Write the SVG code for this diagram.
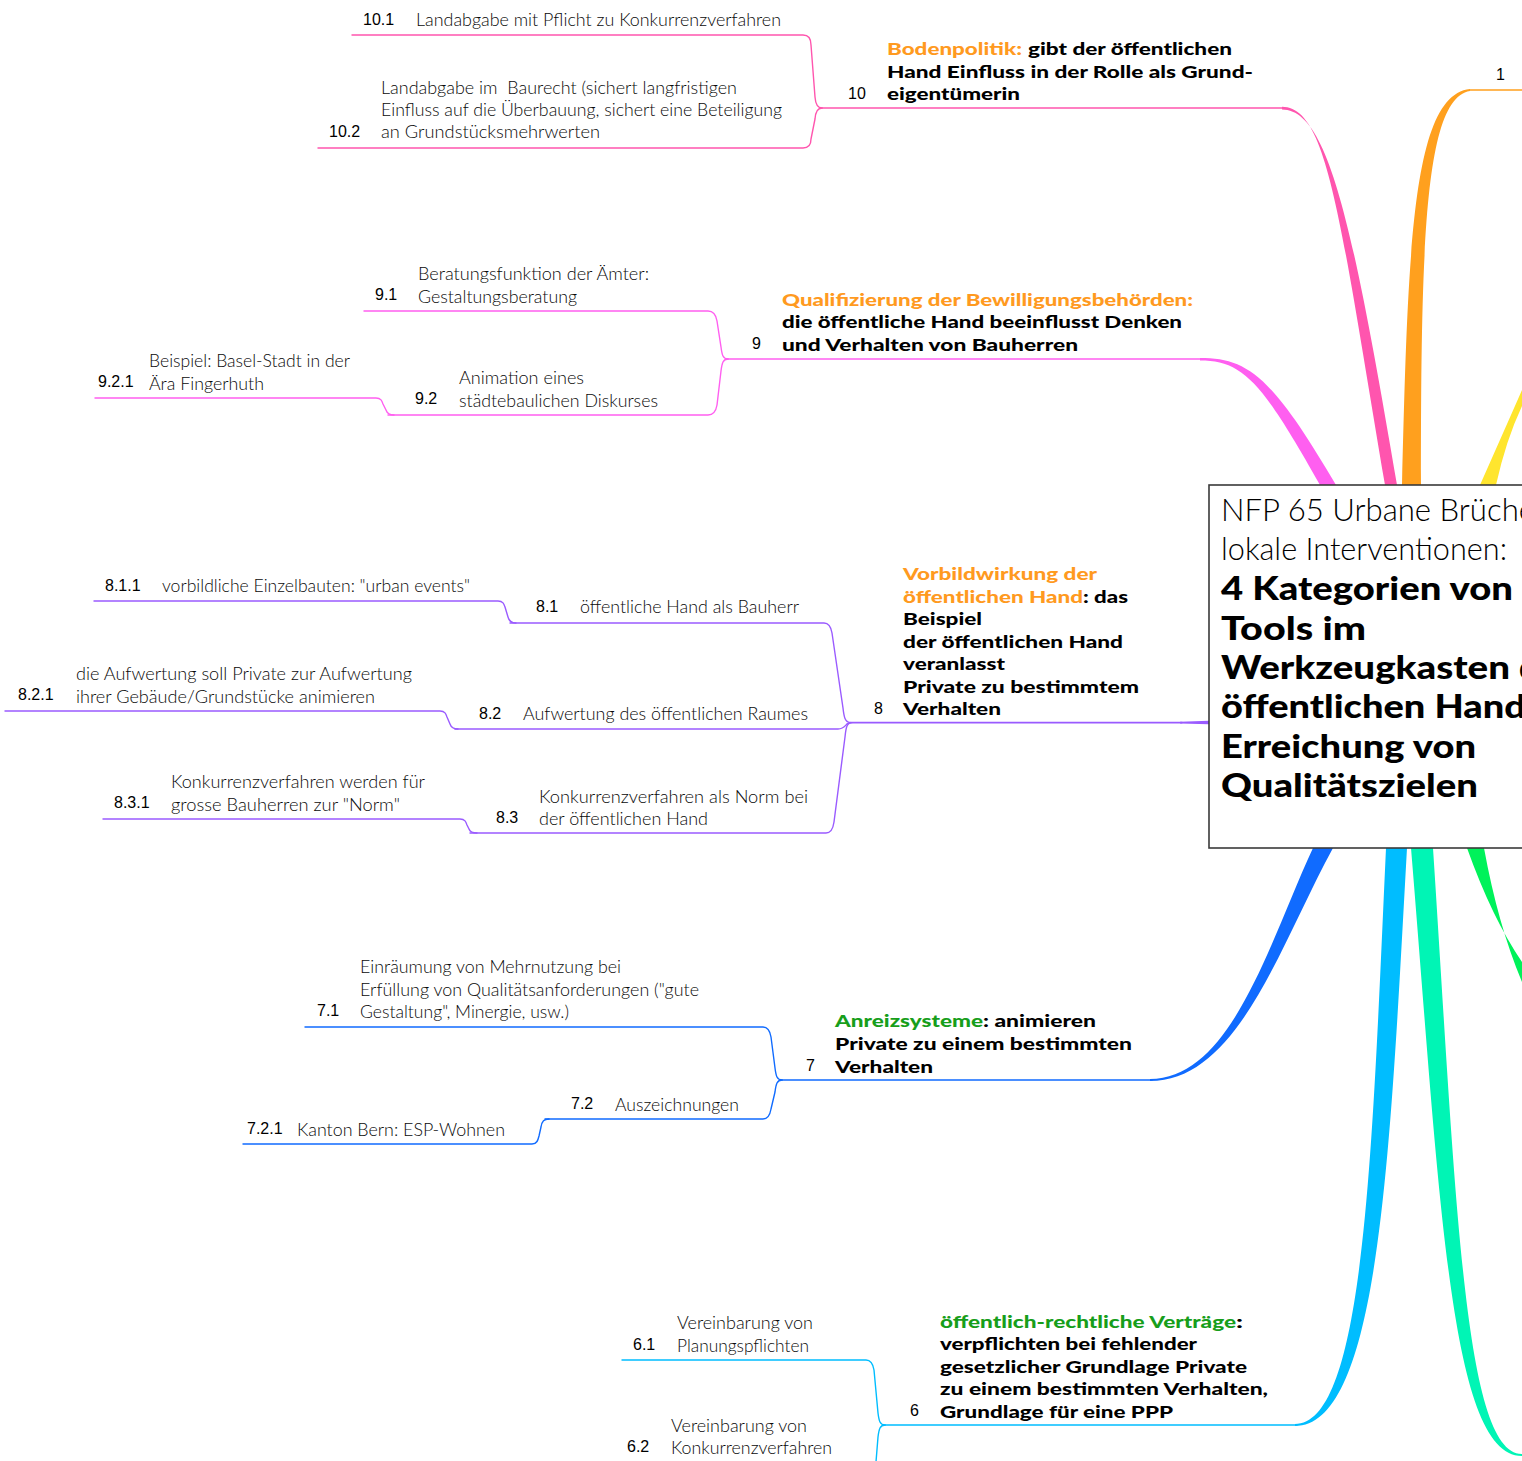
<svg xmlns="http://www.w3.org/2000/svg" width="1522" height="1461" viewBox="0 0 1522 1461">
<style>
.lt{font-family:Lato,"Open Sans",sans-serif;font-weight:300;font-size:18px;fill:#0a0a0a}
.bd{font-family:Lato,"Open Sans",sans-serif;font-weight:900;font-size:17px;fill:#000}
.nm{font-family:"Liberation Sans",Arial,sans-serif;font-size:16px;fill:#000}
.or{fill:#FF9A1F}
.gr{fill:#179E1B}
.cl{font-family:Lato,"Open Sans",sans-serif;font-weight:300;font-size:31px;fill:#000}
.cb{font-family:Lato,"Open Sans",sans-serif;font-weight:900;font-size:33px;fill:#000}
.c{fill:none;stroke-width:1.4;stroke-linecap:round;stroke-linejoin:round}
.p10{stroke:#FF55AE}.p9{stroke:#FF5FF0}.p8{stroke:#9A5BFF}.p7{stroke:#106BFF}.p6{stroke:#00BDFF}
</style>
<rect width="1522" height="1461" fill="#fff"/>
<g id="connectors">
  <path d="M1282,106.8 C1328,106.8 1340,220 1385,485 L1397,485 C1352,220 1328,109.4 1282,109.4 Z" fill="#FF55AE"/>
  <path d="M1200,358 C1248,358 1272,376 1336,485 L1320,485 C1262,382 1243,360.6 1200,360.6 Z" fill="#FF5FF0"/>
  <path d="M1402,485 C1408,250 1412,95 1470,89 L1470,91 C1424,98 1421,250 1421,485 Z" fill="#FFA01E"/>
  <path d="M1480,485 Q1500,440 1522,390 L1522,406 Q1506,440 1496,485 Z" fill="#FFE52E"/>
  <path d="M1313,848 C1270,940 1232,1079 1150,1079 L1150,1081 C1238,1081 1280,945 1333,848 Z" fill="#106BFF"/>
  <path d="M1386,848 C1372,1150 1365,1424 1295,1424 L1295,1426 C1380,1426 1390,1150 1407,848 Z" fill="#00BDFF"/>
  <path d="M1411,848 C1440,1200 1450,1456 1522,1456 L1522,1454 C1464,1454 1456,1200 1433,848 Z" fill="#00F5B5"/>
  <path d="M1467,848 Q1492,918 1522,962 L1522,982 Q1498,925 1484,848 Z" fill="#00F25A"/>
  <path d="M1180,721.8 L1209,720.8 L1209,724.2 L1180,723.4 Z" fill="#9A5BFF"/>
  <path class="c p10" d="M822,108 H1284"/>
  <path class="c p9" d="M728,359 H1202"/>
  <path class="c p8" d="M850,722.6 H1182" style="stroke-width:1.6"/>
  <path class="c p7" d="M782,1080 H1152"/>
  <path class="c p6" d="M885,1425 H1297"/>
  <path d="M1470,90 H1522" class="c" style="stroke:#FFA01E"/>
  <path class="c p10" d="M352,35 H803 C809,35 811,39 811,45 L815,97 C815.5,104 817,108 822,108"/>
  <path class="c p10" d="M318,148 H803 C809,148 811,144 811,139 L815,119 C815.5,112 817,108 822,108"/>
  <path class="c p9" d="M364,311 H708 C714,311 716,315 717,321 L721,347 C722,355 723,359 728,359"/>
  <path class="c p9" d="M388,415 H708 C714,415 716,411 717,405 L721,371 C722,363 723,359 728,359"/>
  <path class="c p9" d="M95,398 H376 C381,398 382,401 383,404 L386,410 C387,413 389,415 394,415"/>
  <path class="c p8" d="M94,601 H498 C503,601 504,604 505,607 L508,617 C509,621 511,623 516,623"/>
  <path class="c p8" d="M510,623 H824 C829,623 831,627 832,633 L843,708 C844,717 845,722 850,722.6"/>
  <path class="c p8" d="M5,711 H440 C445,711 446,714 447,717 L450,724 C451,727 453,729 458,729"/>
  <path class="c p8" d="M455,729 H838 C843,729 845,726 847,724 L850,722.6"/>
  <path class="c p8" d="M103,819 H460 C465,819 466,822 467,825 L469,829 C470,832 472,833 477,833"/>
  <path class="c p8" d="M470,833 H826 C831,833 833,829 834,822 L845,737 C846,727 847,722.6 852,722.6"/>
  <path class="c p7" d="M305,1027 H763 C768,1027 770,1031 771,1037 L775,1068 C776,1076 777,1080 782,1080"/>
  <path class="c p7" d="M545,1119 H763 C768,1119 770,1115 771,1109 L775,1092 C776,1084 777,1080 782,1080"/>
  <path class="c p7" d="M243,1144 H532 C537,1144 538,1140 539,1136 L541,1127 C542,1121 544,1119 549,1119"/>
  <path class="c p6" d="M622,1360 H866 C871,1360 873,1364 874,1370 L878,1413 C879,1421 880,1425 885,1425"/>
  <path class="c p6" d="M885,1425 C880,1425 879,1429 878,1437 L876,1462"/>
</g>
<g id="central">
  <rect x="1209" y="485" width="340" height="363" fill="#fff" stroke="#3a3a3a" stroke-width="1.6"/>
  <text class="cl" x="1221" y="521" textLength="314" lengthAdjust="spacingAndGlyphs">NFP 65 Urbane Brüche</text>
  <text class="cl" x="1221" y="560" textLength="286" lengthAdjust="spacingAndGlyphs">lokale Interventionen:</text>
  <text class="cb" x="1221" y="600" textLength="292" lengthAdjust="spacingAndGlyphs">4 Kategorien von</text>
  <text class="cb" x="1221" y="640" textLength="145" lengthAdjust="spacingAndGlyphs">Tools im</text>
  <text class="cb" x="1221" y="679" textLength="289" lengthAdjust="spacingAndGlyphs">Werkzeugkasten</text>
  <text class="cb" x="1519" y="679">der</text>
  <text class="cb" x="1221" y="718" textLength="305" lengthAdjust="spacingAndGlyphs">öffentlichen Hand</text>
  <text class="cb" x="1221" y="758" textLength="255" lengthAdjust="spacingAndGlyphs">Erreichung von</text>
  <text class="cb" x="1221" y="797" textLength="257" lengthAdjust="spacingAndGlyphs">Qualitätszielen</text>
</g>
<g id="n1"><text class="nm" x="1496" y="80">1</text></g>
<g id="n10">
  <text class="nm" x="848" y="99">10</text>
  <text class="bd or" x="887" y="55" textLength="135" lengthAdjust="spacingAndGlyphs">Bodenpolitik:</text>
  <text class="bd" x="1028" y="55" textLength="204" lengthAdjust="spacingAndGlyphs">gibt der öffentlichen</text>
  <text class="bd" x="887" y="78" textLength="366" lengthAdjust="spacingAndGlyphs">Hand Einfluss in der Rolle als Grund-</text>
  <text class="bd" x="887" y="100" textLength="133" lengthAdjust="spacingAndGlyphs">eigentümerin</text>
</g>
<g id="n10-1">
  <text class="nm" x="363" y="25">10.1</text>
  <text class="lt" x="416" y="26" textLength="365" lengthAdjust="spacingAndGlyphs">Landabgabe mit Pflicht zu Konkurrenzverfahren</text>
</g>
<g id="n10-2">
  <text class="nm" x="329" y="137">10.2</text>
  <text class="lt" x="381" y="94" textLength="356" lengthAdjust="spacingAndGlyphs" xml:space="preserve">Landabgabe im  Baurecht (sichert langfristigen</text>
  <text class="lt" x="381" y="116" textLength="401" lengthAdjust="spacingAndGlyphs">Einfluss auf die Überbauung, sichert eine Beteiligung</text>
  <text class="lt" x="381" y="138" textLength="219" lengthAdjust="spacingAndGlyphs">an Grundstücksmehrwerten</text>
</g>
<g id="n9">
  <text class="nm" x="752" y="349">9</text>
  <text class="bd or" x="782" y="306" textLength="411" lengthAdjust="spacingAndGlyphs">Qualifizierung der Bewilligungsbehörden:</text>
  <text class="bd" x="782" y="328" textLength="400" lengthAdjust="spacingAndGlyphs">die öffentliche Hand beeinflusst Denken</text>
  <text class="bd" x="782" y="351" textLength="296" lengthAdjust="spacingAndGlyphs">und Verhalten von Bauherren</text>
</g>
<g id="n9-1">
  <text class="nm" x="375" y="300">9.1</text>
  <text class="lt" x="418" y="280" textLength="231" lengthAdjust="spacingAndGlyphs">Beratungsfunktion der Ämter:</text>
  <text class="lt" x="418" y="303" textLength="159" lengthAdjust="spacingAndGlyphs">Gestaltungsberatung</text>
</g>
<g id="n9-2">
  <text class="nm" x="415" y="404">9.2</text>
  <text class="lt" x="459" y="384" textLength="125" lengthAdjust="spacingAndGlyphs">Animation eines</text>
  <text class="lt" x="459" y="407" textLength="199" lengthAdjust="spacingAndGlyphs">städtebaulichen Diskurses</text>
</g>
<g id="n9-2-1">
  <text class="nm" x="98" y="387">9.2.1</text>
  <text class="lt" x="149" y="367" textLength="201" lengthAdjust="spacingAndGlyphs">Beispiel: Basel-Stadt in der</text>
  <text class="lt" x="149" y="390" textLength="115" lengthAdjust="spacingAndGlyphs">Ära Fingerhuth</text>
</g>
<g id="n8">
  <text class="nm" x="874" y="714">8</text>
  <text class="bd or" x="903" y="580" textLength="194" lengthAdjust="spacingAndGlyphs">Vorbildwirkung der</text>
  <text class="bd or" x="903" y="603" textLength="180" lengthAdjust="spacingAndGlyphs">öffentlichen Hand</text>
  <text class="bd" x="1083" y="603" textLength="45" lengthAdjust="spacingAndGlyphs">: das</text>
  <text class="bd" x="903" y="625" textLength="79" lengthAdjust="spacingAndGlyphs">Beispiel</text>
  <text class="bd" x="903" y="648" textLength="220" lengthAdjust="spacingAndGlyphs">der öffentlichen Hand</text>
  <text class="bd" x="903" y="670" textLength="102" lengthAdjust="spacingAndGlyphs">veranlasst</text>
  <text class="bd" x="903" y="693" textLength="236" lengthAdjust="spacingAndGlyphs">Private zu bestimmtem</text>
  <text class="bd" x="903" y="715" textLength="98" lengthAdjust="spacingAndGlyphs">Verhalten</text>
</g>
<g id="n8-1">
  <text class="nm" x="536" y="612">8.1</text>
  <text class="lt" x="580" y="613" textLength="219" lengthAdjust="spacingAndGlyphs">öffentliche Hand als Bauherr</text>
</g>
<g id="n8-1-1">
  <text class="nm" x="105" y="591">8.1.1</text>
  <text class="lt" x="162" y="592" textLength="308" lengthAdjust="spacingAndGlyphs">vorbildliche Einzelbauten: "urban events"</text>
</g>
<g id="n8-2">
  <text class="nm" x="479" y="719">8.2</text>
  <text class="lt" x="523" y="720" textLength="285" lengthAdjust="spacingAndGlyphs">Aufwertung des öffentlichen Raumes</text>
</g>
<g id="n8-2-1">
  <text class="nm" x="18" y="700">8.2.1</text>
  <text class="lt" x="76" y="680" textLength="336" lengthAdjust="spacingAndGlyphs">die Aufwertung soll Private zur Aufwertung</text>
  <text class="lt" x="76" y="703" textLength="299" lengthAdjust="spacingAndGlyphs">ihrer Gebäude/Grundstücke animieren</text>
</g>
<g id="n8-3">
  <text class="nm" x="496" y="823">8.3</text>
  <text class="lt" x="539" y="803" textLength="269" lengthAdjust="spacingAndGlyphs">Konkurrenzverfahren als Norm bei</text>
  <text class="lt" x="539" y="825" textLength="169" lengthAdjust="spacingAndGlyphs">der öffentlichen Hand</text>
</g>
<g id="n8-3-1">
  <text class="nm" x="114" y="808">8.3.1</text>
  <text class="lt" x="171" y="788" textLength="254" lengthAdjust="spacingAndGlyphs">Konkurrenzverfahren werden für</text>
  <text class="lt" x="171" y="811" textLength="229" lengthAdjust="spacingAndGlyphs">grosse Bauherren zur "Norm"</text>
</g>
<g id="n7">
  <text class="nm" x="806" y="1071">7</text>
  <text class="bd gr" x="835" y="1027" textLength="148" lengthAdjust="spacingAndGlyphs">Anreizsysteme</text>
  <text class="bd" x="983" y="1027" textLength="113" lengthAdjust="spacingAndGlyphs">: animieren</text>
  <text class="bd" x="835" y="1050" textLength="297" lengthAdjust="spacingAndGlyphs">Private zu einem bestimmten</text>
  <text class="bd" x="835" y="1073" textLength="98" lengthAdjust="spacingAndGlyphs">Verhalten</text>
</g>
<g id="n7-1">
  <text class="nm" x="317" y="1016">7.1</text>
  <text class="lt" x="360" y="973" textLength="261" lengthAdjust="spacingAndGlyphs">Einräumung von Mehrnutzung bei</text>
  <text class="lt" x="360" y="996" textLength="339" lengthAdjust="spacingAndGlyphs">Erfüllung von Qualitätsanforderungen ("gute</text>
  <text class="lt" x="360" y="1018" textLength="209" lengthAdjust="spacingAndGlyphs">Gestaltung", Minergie, usw.)</text>
</g>
<g id="n7-2">
  <text class="nm" x="571" y="1109">7.2</text>
  <text class="lt" x="615" y="1111" textLength="124" lengthAdjust="spacingAndGlyphs">Auszeichnungen</text>
</g>
<g id="n7-2-1">
  <text class="nm" x="247" y="1134">7.2.1</text>
  <text class="lt" x="297" y="1136" textLength="208" lengthAdjust="spacingAndGlyphs">Kanton Bern: ESP-Wohnen</text>
</g>
<g id="n6">
  <text class="nm" x="910" y="1416">6</text>
  <text class="bd gr" x="940" y="1328" textLength="296" lengthAdjust="spacingAndGlyphs">öffentlich-rechtliche Verträge</text>
  <text class="bd" x="1236" y="1328" textLength="7" lengthAdjust="spacingAndGlyphs">:</text>
  <text class="bd" x="940" y="1350" textLength="257" lengthAdjust="spacingAndGlyphs">verpflichten bei fehlender</text>
  <text class="bd" x="940" y="1373" textLength="307" lengthAdjust="spacingAndGlyphs">gesetzlicher Grundlage Private</text>
  <text class="bd" x="940" y="1395" textLength="328" lengthAdjust="spacingAndGlyphs">zu einem bestimmten Verhalten,</text>
  <text class="bd" x="940" y="1418" textLength="233" lengthAdjust="spacingAndGlyphs">Grundlage für eine PPP</text>
</g>
<g id="n6-1">
  <text class="nm" x="633" y="1350">6.1</text>
  <text class="lt" x="677" y="1329" textLength="136" lengthAdjust="spacingAndGlyphs">Vereinbarung von</text>
  <text class="lt" x="677" y="1352" textLength="132" lengthAdjust="spacingAndGlyphs">Planungspflichten</text>
</g>
<g id="n6-2">
  <text class="nm" x="627" y="1452">6.2</text>
  <text class="lt" x="671" y="1432" textLength="136" lengthAdjust="spacingAndGlyphs">Vereinbarung von</text>
  <text class="lt" x="671" y="1454" textLength="161" lengthAdjust="spacingAndGlyphs">Konkurrenzverfahren</text>
</g>
</svg>
